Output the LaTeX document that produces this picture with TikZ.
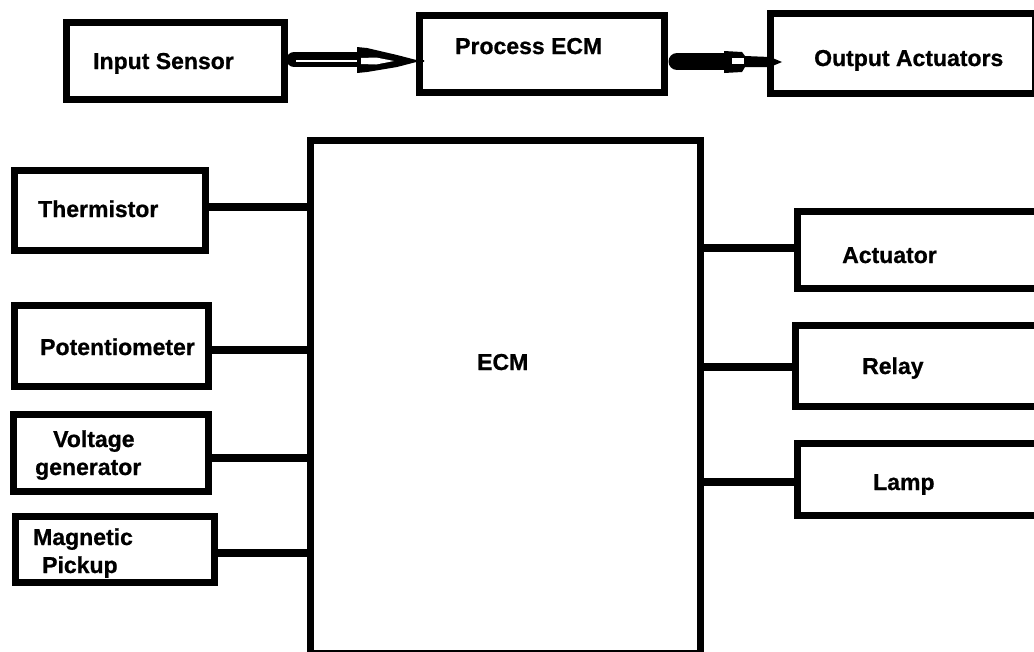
\documentclass[tikz,border=0pt]{standalone}
\usepackage{fontspec}
\setmainfont{Liberation Sans}[BoldFeatures={FakeBold=0.8}]
\begin{document}
\begin{tikzpicture}[x=1pt,y=-1pt,
  box/.style={draw=black, line width=7pt, rectangle, inner sep=0pt, outer sep=0pt, anchor=north west},
  wire/.style={line width=7.5pt},
  lbl/.style={font=\fontsize{23}{27}\selectfont\bfseries, inner sep=0pt, anchor=base west}]
\clip (0,0) rectangle (1034,651);
\fill[white] (0,0) rectangle (1034,651);

% top row: flow of signals
\node[box, minimum width=218pt, minimum height=77pt] (insens) at (66,22) {};
\node[box, minimum width=245pt, minimum height=77pt] (proc) at (419,15) {};
\node[box, minimum width=265pt, minimum height=80pt] (outact) at (770,13) {};
\node[lbl] (tinsens) at (93,69) {Input Sensor};
\node[lbl] (tproc) at (455,54) {Process ECM};
\node[lbl] (toutact) at (814,66) {Output Actuators};

% hollow arrow: sensor -> ECM
\coordinate (a1s) at ([xshift=10pt]insens.east |- 0,59.5);
\coordinate (a1t) at ([xshift=5pt]proc.west |- 0,61);
\draw[line width=15pt, line cap=round] (a1s) -- (358,59.5);
\draw[white, line width=2pt] (296,61) -- (360,61);
\fill (357,47) -- (367,48) -- (397,55) -- ([yshift=-1pt]a1t) -- ([yshift=1pt]a1t) -- (397,67) -- (367,72) -- (357,73) -- cycle;
\fill[white] (361,58) -- (376,57.5) -- (394,61) -- (376,64.5) -- (361,64) -- cycle;

% solid arrow: ECM -> actuators
\coordinate (a2s) at ([xshift=13pt]proc.east |- 0,61.5);
\coordinate (a2t) at ([xshift=12pt]outact.west |- 0,62);
\draw[line width=17pt, line cap=round] (a2s) -- (726,61.5);
\fill (724,51) -- (742,52) -- (745,56) -- (770,57) -- (a2t) -- (770,67) -- (745,67) -- (742,72) -- (724,73) -- cycle;
\fill[white] (732,58) rectangle (744,64);

% control unit
\node[box, minimum width=390pt, minimum height=513pt] (ecm) at (310,140) {};
\node[lbl] (tecm) at (477,370) {ECM};

% sensors
\node[box, minimum width=191pt, minimum height=80pt] (therm) at (14,170) {};
\node[box, minimum width=194pt, minimum height=81pt] (pot) at (14,305) {};
\node[box, minimum width=195pt, minimum height=77pt] (volt) at (13,414) {};
\node[box, minimum width=199pt, minimum height=66pt] (mag) at (15,516) {};
\node[lbl] (ttherm) at (38,217) {Thermistor};
\node[lbl] (tpot) at (40,355) {Potentiometer};
\node[lbl] (tvolt1) at (53,447) {Voltage};
\node[lbl] (tvolt2) at (35,475) {generator};
\node[lbl] (tmag1) at (33,545) {Magnetic};
\node[lbl] (tmag2) at (42,573) {Pickup};

% actuators
\node[box, minimum width=260pt, minimum height=77pt] (act) at (797,211) {};
\node[box, minimum width=260pt, minimum height=81pt] (relay) at (795,325) {};
\node[box, minimum width=260pt, minimum height=72pt] (lamp) at (797,443) {};
\node[lbl] (tact) at (842,263) {Actuator};
\node[lbl] (trelay) at (862,374) {Relay};
\node[lbl] (tlamp) at (873,490) {Lamp};

% wiring
\draw[wire] (therm.east |- 0,207) -- (ecm.west |- 0,207);
\draw[wire] (pot.east |- 0,350) -- (ecm.west |- 0,350);
\draw[wire] (volt.east |- 0,458) -- (ecm.west |- 0,458);
\draw[wire] (mag.east |- 0,553) -- (ecm.west |- 0,553);
\draw[wire] (ecm.east |- 0,248) -- (act.west |- 0,248);
\draw[wire] (ecm.east |- 0,367) -- (relay.west |- 0,367);
\draw[wire] (ecm.east |- 0,482) -- (lamp.west |- 0,482);
\end{tikzpicture}
\end{document}
